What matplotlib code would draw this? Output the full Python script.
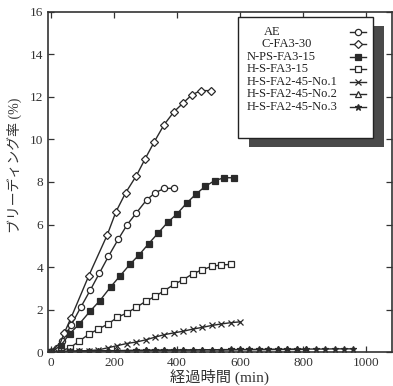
import matplotlib
matplotlib.use("Agg")
import matplotlib.pyplot as plt
from matplotlib.patches import Rectangle

plt.rcParams['font.family'] = ['Liberation Serif', 'Noto Sans CJK JP']

# data (time in min, bleeding rate in %)
ae_t = [0, 20, 36, 50, 63, 94, 124, 153, 182, 213, 242, 271, 303, 331, 360, 390]
ae_v = [0, 0.2, 0.5, 0.9, 1.25, 2.1, 2.9, 3.7, 4.5, 5.3, 6.0, 6.55, 7.15, 7.5, 7.7, 7.7]

cfa_t = [0, 10, 23, 42, 63, 120, 178, 206, 237, 271, 299, 328, 359, 390, 418, 447, 475, 508]
cfa_v = [0, 0.05, 0.2, 0.9, 1.6, 3.6, 5.5, 6.6, 7.5, 8.3, 9.1, 9.9, 10.7, 11.3, 11.7, 12.1, 12.3, 12.3]

nps_t = [0, 30, 60, 90, 125, 155, 190, 220, 250, 280, 310, 340, 370, 400, 430, 460, 490, 520, 550, 580]
nps_v = [0, 0.3, 0.87, 1.33, 1.94, 2.42, 3.08, 3.6, 4.12, 4.58, 5.1, 5.6, 6.1, 6.5, 7.0, 7.43, 7.8, 8.07, 8.2, 8.2]

hs15_t = [0, 30, 60, 90, 120, 150, 180, 210, 240, 270, 300, 330, 360, 390, 420, 450, 480, 510, 540, 570]
hs15_v = [0, 0.05, 0.2, 0.52, 0.84, 1.08, 1.31, 1.63, 1.83, 2.1, 2.38, 2.62, 2.89, 3.18, 3.41, 3.68, 3.87, 4.03, 4.1, 4.12]

no1_t = [0, 30, 60, 90, 120, 150, 180, 210, 240, 270, 300, 330, 360, 390, 420, 450, 480, 510, 540, 570, 600]
no1_v = [0, 0.02, 0.03, 0.05, 0.07, 0.1, 0.2, 0.3, 0.4, 0.47, 0.57, 0.7, 0.82, 0.9, 0.98, 1.08, 1.16, 1.25, 1.32, 1.38, 1.42]

no2_t = [0, 30, 60, 90, 120, 150, 180, 210, 240, 270, 300, 330, 360, 390, 420, 450, 480, 510,
         540, 570, 600, 630, 660, 690, 720, 750, 780, 810]
no2_v = [0, 0.02, 0.03, 0.04, 0.05, 0.05, 0.06, 0.06, 0.07, 0.07, 0.08, 0.08, 0.08, 0.09, 0.09, 0.09,
         0.1, 0.1, 0.1, 0.1, 0.11, 0.11, 0.11, 0.11, 0.12, 0.12, 0.12, 0.12]

no3_t = [0, 30, 60, 90, 120, 150, 180, 210, 240, 270, 300, 330, 360, 390, 420, 450, 480, 510,
         540, 570, 600, 630, 660, 690, 720, 750, 780, 810, 840, 870, 900, 930, 960]
no3_v = [0, 0.02, 0.03, 0.04, 0.05, 0.06, 0.06, 0.07, 0.07, 0.08, 0.08, 0.09, 0.09, 0.1, 0.1, 0.1,
         0.11, 0.11, 0.11, 0.12, 0.12, 0.12, 0.13, 0.13, 0.13, 0.13, 0.14, 0.14, 0.14, 0.14, 0.15, 0.15, 0.15]

labels = ['AE', 'C-FA3-30', 'N-PS-FA3-15', 'H-S-FA3-15',
          'H-S-FA2-45-No.1', 'H-S-FA2-45-No.2', 'H-S-FA2-45-No.3']


def main():
    fig = plt.figure(figsize=(3.93, 3.86), dpi=100)
    ax = fig.add_axes([0.122, 0.088, 0.875, 0.881])

    lc = '#2a2a2a'
    kw = dict(color=lc, lw=1.0, markersize=4.5, markeredgecolor=lc, markeredgewidth=0.9)
    styles = [
        dict(marker='o', markerfacecolor='white'),
        dict(marker='D', markerfacecolor='white', markersize=4),
        dict(marker='s', markerfacecolor=lc),
        dict(marker='s', markerfacecolor='white'),
        dict(marker='x'),
        dict(marker='^', markerfacecolor='white'),
        dict(marker='*', markerfacecolor=lc),
    ]
    series = [(ae_t, ae_v), (cfa_t, cfa_v), (nps_t, nps_v), (hs15_t, hs15_v),
              (no1_t, no1_v), (no2_t, no2_v), (no3_t, no3_v)]

    for (t, v), st in zip(series, styles):
        ax.plot(t, v, **{**kw, **st})

    ax.set_xlim(-10, 1082)
    ax.set_ylim(0, 16)
    ax.set_xticks([0, 200, 400, 600, 800, 1000])
    ax.set_yticks(range(0, 17, 2))
    ax.tick_params(direction='in', top=True, right=True, labelsize=9.5,
                   length=4, width=0.9, colors='#333333')
    for s in ax.spines.values():
        s.set_linewidth(1.2)
        s.set_color('#333333')

    ax.set_xlabel('経過時間 (min)', fontsize=11, labelpad=0, color='#333333')
    ax.set_ylabel('ブリーディング率 (%)', fontsize=10, color='#333333')
    ax.yaxis.set_label_coords(-0.075, 0.55)

    # hand-built legend with a drop shadow (axes fraction coords)
    x0, x1 = 0.552, 0.945
    y0, y1 = 0.629, 0.985
    ax.add_patch(Rectangle((x0 + 0.032, y0 - 0.027), x1 - x0, y1 - y0, transform=ax.transAxes,
                           facecolor='#4a4a4a', edgecolor='none', zorder=5, clip_on=False))
    ax.add_patch(Rectangle((x0, y0), x1 - x0, y1 - y0, transform=ax.transAxes,
                           facecolor='white', edgecolor='#222222', lw=1.0, zorder=6, clip_on=False))
    text_x = [0.627, 0.622, 0.578, 0.578, 0.578, 0.578, 0.578]
    for i, lab in enumerate(labels):
        yy = 0.942 - i * 0.0368
        ax.text(text_x[i], yy, lab, transform=ax.transAxes, fontsize=9, va='center',
                ha='left', color='#222222', zorder=7)
        ax.plot([0.878, 0.924], [yy, yy], transform=ax.transAxes, zorder=7, clip_on=False,
                color=lc, lw=1.0)
        ax.plot([0.901], [yy], transform=ax.transAxes, zorder=8, clip_on=False,
                **{**kw, **styles[i]})

    fig.savefig("out.png", dpi=100)


if __name__ == "__main__":
    main()
